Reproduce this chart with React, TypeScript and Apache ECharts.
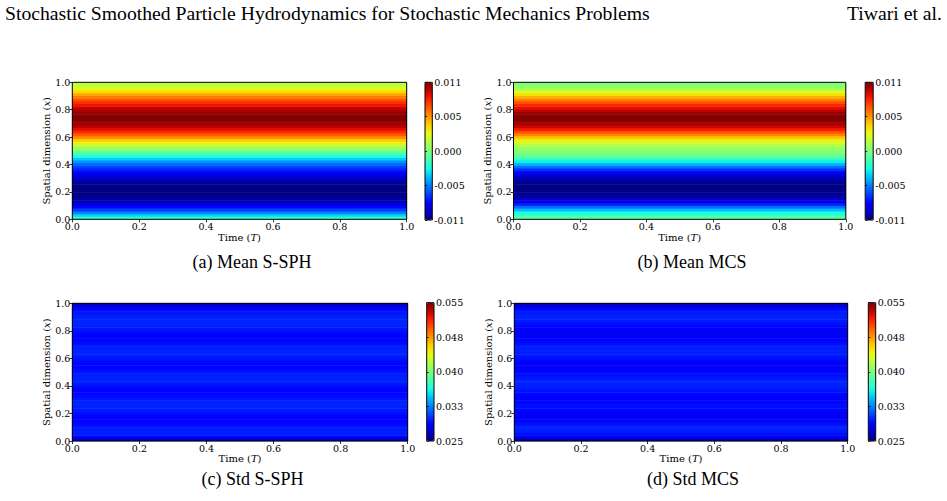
import React, { useEffect, useRef } from "react";
import * as echarts from "echarts";

// ---------------- data ----------------
// spatial sampling points x = 0.00 ... 1.00 (step 0.02)
const spatialPoints: string[] = Array.from({ length: 51 }, (_, i) => (i * 0.02).toFixed(2));
// time axis (the fields are constant in time over [0, T])
const timeSteps: string[] = ["0-T"];

// mean profiles, x = 0.00 -> 1.00
const meanSSPH: number[] = [
  -0.0022, -0.0036, -0.0053, -0.0068, -0.0080, -0.0089, -0.0096, -0.0101, -0.0105, -0.0107,
  -0.0108, -0.0108, -0.0106, -0.0103, -0.0099, -0.0094, -0.0088, -0.0081, -0.0074, -0.0067,
  -0.0060, -0.0050, -0.0038, -0.0026, -0.0013, -0.0002, 0.0008, 0.0018, 0.0030, 0.0043,
  0.0056, 0.0068, 0.0079, 0.0088, 0.0096, 0.0102, 0.0106, 0.0108, 0.0107, 0.0104,
  0.0100, 0.0094, 0.0086, 0.0078, 0.0070, 0.0060, 0.0050, 0.0038, 0.0029, 0.0020,
  0.0015,
];
const meanMCS: number[] = [
  -0.0009, -0.0018, -0.0027, -0.0041, -0.0057, -0.0073, -0.0086, -0.0095, -0.0101, -0.0105,
  -0.0107, -0.0108, -0.0107, -0.0105, -0.0102, -0.0097, -0.0091, -0.0083, -0.0071, -0.0057,
  -0.0044, -0.0031, -0.0019, -0.0008, 0.0000, 0.0004, 0.0006, 0.0014, 0.0022, 0.0032,
  0.0044, 0.0058, 0.0071, 0.0083, 0.0093, 0.0101, 0.0106, 0.0108, 0.0107, 0.0104,
  0.0096, 0.0088, 0.0080, 0.0070, 0.0060, 0.0048, 0.0036, 0.0024, 0.0012, 0.0005,
  0.0000,
];
// std profiles, x = 0.00 -> 1.00
const stdSSPH: number[] = [
  0.0268, 0.0285, 0.0296, 0.0297, 0.0295, 0.0292, 0.0289, 0.0287, 0.0287, 0.0289,
  0.0292, 0.0295, 0.0297, 0.0298, 0.0297, 0.0294, 0.0291, 0.0289, 0.0288, 0.0289,
  0.0292, 0.0295, 0.0297, 0.0298, 0.0296, 0.0293, 0.0290, 0.0288, 0.0288, 0.0290,
  0.0293, 0.0296, 0.0298, 0.0298, 0.0296, 0.0293, 0.0290, 0.0288, 0.0287, 0.0288,
  0.0291, 0.0294, 0.0297, 0.0298, 0.0298, 0.0297, 0.0296, 0.0294, 0.0290, 0.0283,
  0.0268,
];
const stdMCS: number[] = [
  0.0266, 0.0280, 0.0290, 0.0295, 0.0297, 0.0295, 0.0291, 0.0287, 0.0285, 0.0284,
  0.0286, 0.0289, 0.0291, 0.0291, 0.0289, 0.0287, 0.0287, 0.0289, 0.0292, 0.0295,
  0.0297, 0.0298, 0.0297, 0.0294, 0.0291, 0.0289, 0.0287, 0.0286, 0.0286, 0.0288,
  0.0291, 0.0294, 0.0296, 0.0297, 0.0296, 0.0293, 0.0290, 0.0287, 0.0285, 0.0284,
  0.0284, 0.0286, 0.0289, 0.0292, 0.0295, 0.0297, 0.0297, 0.0295, 0.0291, 0.0283,
  0.0268,
];

const axisTicks: number[] = [0, 0.2, 0.4, 0.6, 0.8, 1.0];
const meanColorbarTicks: string[] = ["-0.011", "-0.005", "0.000", "0.005", "0.011"];
const stdColorbarTicks: string[] = ["0.025", "0.033", "0.040", "0.048", "0.055"];
const meanRange: [number, number] = [-0.0108, 0.0108];
const stdRange: [number, number] = [0.025, 0.055];

const captions: string[] = ["(a) Mean S-SPH", "(b) Mean MCS", "(c) Std S-SPH", "(d) Std MCS"];
const headerLeft = "Stochastic Smoothed Particle Hydrodynamics for Stochastic Mechanics Problems";
const headerRight = "Tiwari et al.";

// ---------------- style / layout ----------------
const JET = [
  "#000080", "#0000c8", "#0000ff", "#0040ff", "#0080ff", "#00bfff", "#15ffe2", "#48ffaf",
  "#7bff7b", "#afff48", "#e2ff15", "#ffd200", "#ff9700", "#ff5c00", "#ff2100", "#c80000", "#800000",
];
const SERIF = "'DejaVu Serif', serif";
const TIMES = "'Liberation Serif', 'Times New Roman', serif";

const layout = [
  { plot: { l: 72.3, t: 82.3, w: 334.4, h: 137 }, cb: { l: 425, t: 82.3, w: 7.3, h: 137.7 }, cap: { x: 252, y: 262 } },
  { plot: { l: 513.5, t: 82.3, w: 332.3, h: 137 }, cb: { l: 865.2, t: 82.3, w: 8, h: 137.7 }, cap: { x: 692, y: 262 } },
  { plot: { l: 72.3, t: 303.3, w: 335.4, h: 137.7 }, cb: { l: 426.7, t: 302.7, w: 7.3, h: 138.3 }, cap: { x: 252.6, y: 479 } },
  { plot: { l: 514.3, t: 303.3, w: 333.4, h: 137.7 }, cb: { l: 868.3, t: 302.7, w: 7.4, h: 138.3 }, cap: { x: 693, y: 479 } },
];

const panels = [
  { values: meanSSPH, range: meanRange, cbTicks: meanColorbarTicks },
  { values: meanMCS, range: meanRange, cbTicks: meanColorbarTicks },
  { values: stdSSPH, range: stdRange, cbTicks: stdColorbarTicks },
  { values: stdMCS, range: stdRange, cbTicks: stdColorbarTicks },
];

function buildOption() {
  const grid: any[] = [];
  const xAxis: any[] = [];
  const yAxis: any[] = [];
  const series: any[] = [];
  const visualMap: any[] = [];
  const graphic: any[] = [];

  const nameStyle = {
    fontFamily: SERIF,
    fontSize: 10,
    color: "#000",
    rich: { i: { fontFamily: SERIF, fontSize: 10, fontStyle: "italic", color: "#000" } },
  };
  const labelStyle = { fontFamily: SERIF, fontSize: 9.5, color: "#000" };

  panels.forEach((p, k) => {
    const L = layout[k];
    const g0 = 3 * k;
    grid.push({ left: L.plot.l, top: L.plot.t, width: L.plot.w, height: L.plot.h, outerBoundsMode: "none", containLabel: false });
    grid.push({
      left: L.plot.l, top: L.plot.t, width: L.plot.w, height: L.plot.h, outerBoundsMode: "none", containLabel: false,
      show: true, borderColor: "#000", borderWidth: 1, backgroundColor: "transparent", z: 10,
    });
    grid.push({
      left: L.cb.l, top: L.cb.t, width: L.cb.w, height: L.cb.h, outerBoundsMode: "none", containLabel: false,
      show: true, borderColor: "#000", borderWidth: 1, backgroundColor: "transparent", z: 10,
    });

    xAxis.push({ type: "category", gridIndex: g0, data: timeSteps, show: false });
    yAxis.push({ type: "category", gridIndex: g0, data: spatialPoints, show: false });

    xAxis.push({
      type: "value", gridIndex: g0 + 1, min: axisTicks[0], max: axisTicks[axisTicks.length - 1], interval: 0.2,
      position: "bottom", z: 10,
      axisLine: { show: false },
      axisTick: { show: true, length: 3, lineStyle: { color: "#000", width: 0.8 } },
      axisLabel: { ...labelStyle, margin: 2, formatter: (v: number) => v.toFixed(1) },
      splitLine: { show: false },
      name: "Time ({i|T})", nameLocation: "middle", nameGap: 12, nameTextStyle: nameStyle,
    });
    yAxis.push({
      type: "value", gridIndex: g0 + 1, min: axisTicks[0], max: axisTicks[axisTicks.length - 1], interval: 0.2,
      position: "left", z: 10,
      axisLine: { show: false },
      axisTick: { show: true, length: 3, lineStyle: { color: "#000", width: 0.8 } },
      axisLabel: { ...labelStyle, margin: 2, formatter: (v: number) => v.toFixed(1) },
      splitLine: { show: false },
      name: "Spatial dimension ({i|x})", nameLocation: "middle", nameGap: 16, nameTextStyle: nameStyle,
    });

    xAxis.push({ type: "value", gridIndex: g0 + 2, show: false, min: 0, max: 1 });
    yAxis.push({
      type: "category", gridIndex: g0 + 2, data: p.cbTicks, boundaryGap: false, position: "right", z: 10,
      axisLine: { show: false },
      axisTick: { show: true, length: 2, lineStyle: { color: "#000", width: 0.8 } },
      axisLabel: { ...labelStyle, margin: 2 },
      splitLine: { show: false },
    });

    const data: number[][] = [];
    timeSteps.forEach((_, ti) => {
      p.values.forEach((v, yi) => data.push([ti, yi, v]));
    });
    series.push({
      type: "heatmap", xAxisIndex: g0, yAxisIndex: g0, data, emphasis: { disabled: true }, progressive: 0,
    });

    visualMap.push({
      type: "continuous", seriesIndex: k, min: p.range[0], max: p.range[1], orient: "vertical",
      left: L.cb.l, top: L.cb.t, itemWidth: L.cb.w, itemHeight: L.cb.h, padding: 0,
      calculable: false, hoverLink: false, inRange: { color: JET }, z: 4,
    });

    graphic.push({
      type: "text", x: L.cap.x, y: L.cap.y,
      style: { text: captions[k], fontFamily: TIMES, fontSize: 18, fill: "#000", align: "center", verticalAlign: "middle" },
    });
  });

  graphic.push({
    type: "text", x: 5, y: 13,
    style: { text: headerLeft, fontFamily: TIMES, fontSize: 19.7, fill: "#000", align: "left", verticalAlign: "middle" },
  });
  graphic.push({
    type: "text", x: 942, y: 13,
    style: { text: headerRight, fontFamily: TIMES, fontSize: 19.7, fill: "#000", align: "right", verticalAlign: "middle" },
  });

  return {
    animation: false,
    backgroundColor: "#fff",
    grid, xAxis, yAxis, series, visualMap, graphic,
  };
}

export default function App() {
  const ref = useRef<HTMLDivElement>(null);
  useEffect(() => {
    if (!ref.current) return;
    const chart = echarts.init(ref.current, undefined, { renderer: "svg" });
    chart.setOption(buildOption() as any);
    return () => chart.dispose();
  }, []);
  return (
    <div
      ref={ref}
      style={{ position: "fixed", left: 0, top: 0, width: 947, height: 501, background: "#fff" }}
    />
  );
}
